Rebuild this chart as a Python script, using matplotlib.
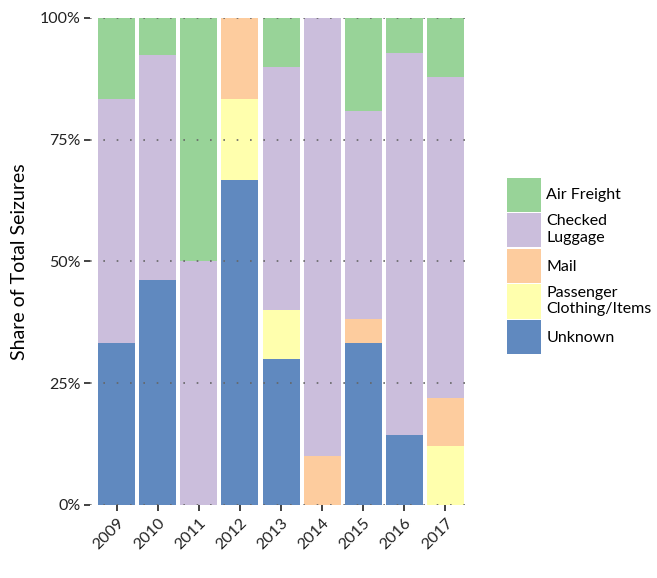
import numpy as np
import matplotlib.pyplot as plt
from matplotlib.patches import Patch

plt.rcParams['font.family'] = ['Lato', 'DejaVu Sans']

# Data (share of seizures, %)
years = ['2009', '2010', '2011', '2012', '2013', '2014', '2015', '2016', '2017']
unknown = [33.3, 46.2, 0, 66.7, 30.0, 0, 33.3, 14.3, 0]
passenger = [0, 0, 0, 16.7, 10.0, 0, 0, 0, 12.2]
mail = [0, 0, 0, 16.6, 0, 10.0, 4.8, 0, 9.8]
checked = [50.0, 46.1, 50.0, 0, 50.0, 90.0, 42.9, 78.6, 65.9]
air_freight = [16.7, 7.7, 50.0, 0, 10.0, 0, 19.0, 7.1, 12.1]

series = [
    ('Unknown', unknown, '#386CB0'),
    ('Passenger\nClothing/Items', passenger, '#FFFF99'),
    ('Mail', mail, '#FDC086'),
    ('Checked\nLuggage', checked, '#BEAED4'),
    ('Air Freight', air_freight, '#7FC97F'),
]

fig = plt.figure(figsize=(6.57, 5.78), dpi=100)
ax = fig.add_axes([0.137, 0.1263, 0.5784, 0.8426])

x = np.arange(len(years))
bottom = np.zeros(len(years))
for name, vals, col in series:
    vals = np.array(vals) / 100
    ax.bar(x, vals, bottom=bottom, width=0.9, color=col, alpha=0.8, linewidth=0)
    bottom += vals

ax.set_xlim(-0.65, len(years) - 0.4)
ax.set_ylim(0, 1)
ax.set_yticks([0, 0.25, 0.5, 0.75, 1.0])
ax.set_yticklabels(['0%', '25%', '50%', '75%', '100%'])
ax.set_xticks(x)
ax.set_xticklabels(years, rotation=45, ha='right', rotation_mode='anchor')
ax.tick_params(axis='both', labelsize=11.5, colors='#222222', length=4, width=1.2)
ax.tick_params(axis='y', pad=3)
ax.tick_params(axis='x', pad=4)
for s in ax.spines.values():
    s.set_visible(False)
ax.yaxis.grid(True, linestyle=(0, (1, 7)), color='#666666', linewidth=1.2, zorder=5)
ax.set_axisbelow(False)
ax.set_ylabel('Share of Total Seizures', fontsize=14, labelpad=8)

handles = [Patch(facecolor=col, alpha=0.8, linewidth=0) for _, _, col in series[::-1]]
labels = [name for name, _, _ in series[::-1]]
fig.legend(handles, labels, loc='center left', bbox_to_anchor=(0.762, 0.54),
           frameon=False, fontsize=11.5, handlelength=2.15, handleheight=2.9,
           labelspacing=0.1, handletextpad=0.3, borderaxespad=0)

plt.savefig('out.png', dpi=100)
